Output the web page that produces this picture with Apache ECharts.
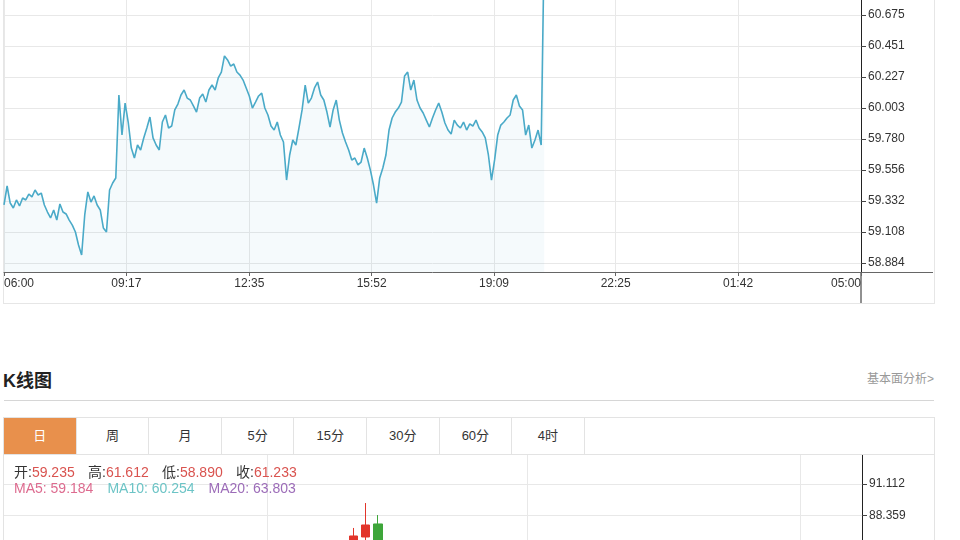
<!DOCTYPE html>
<html>
<head>
<meta charset="utf-8">
<script src="https://cdn.jsdelivr.net/npm/echarts/dist/echarts.min.js"></script>
<style>
  html, body { margin: 0; padding: 0; width: 960px; height: 540px; overflow: hidden; background: #fff;
    font-family: "Liberation Sans", "Noto Sans CJK SC", sans-serif; color: #333; }
  #lineBox { position: absolute; left: 3px; top: -100px; width: 930px; height: 402px; border: 1px solid #e6e6e6; }
  #lineChart { position: absolute; left: 0; top: -100px; width: 960px; height: 404px; }
  #kTitle { position: absolute; left: 3px; top: 366px; font-size: 18px; font-weight: bold; color: #222; }
  #kMore { position: absolute; right: 26px; top: 369px; font-size: 12px; color: #999; }
  #kRule { position: absolute; left: 4px; top: 400px; width: 930px; height: 1px; background: #d6d6d6; }
  #kBox { position: absolute; left: 3px; top: 417px; width: 930px; height: 200px; border: 1px solid #e3e3e3; }
  #tabs { position: absolute; left: 0; top: 0; width: 930px; height: 36px; border-bottom: 1px solid #e3e3e3; }
  .tab { float: left; width: 71.6px; height: 36px; line-height: 36px; text-align: center; font-size: 13px;
    color: #333; border-right: 1px solid #e3e3e3; }
  .tab.on { background: #e8904c; color: #fff; }
  #kChart { position: absolute; left: 0; top: 455px; width: 960px; height: 300px; }
  .info { position: absolute; left: 14px; font-size: 14px; white-space: nowrap; z-index: 5; }
  .info span { display: inline-block; }
  #ohlc { top: 461px; }
  #ohlc span { width: 74px; }
  #ohlc b { font-weight: normal; color: #d9534f; }
  #ma { top: 480px; }
  #ma span { margin-right: 14px; }
</style>
</head>
<body>
<div id="lineBox"></div>
<div id="lineChart"></div>

<div id="kTitle">K线图</div>
<div id="kMore">基本面分析&gt;</div>
<div id="kRule"></div>
<div id="kBox"><div id="tabs"></div></div>
<div id="kChart"></div>
<div class="info" id="ohlc"></div>
<div class="info" id="ma"></div>

<script>
// intraday prices, one point every 5 minutes from 06:00
const stepMinutes = 5;
const intradayPrices = [
  59.303, 59.440, 59.317, 59.281, 59.339, 59.296, 59.353, 59.339, 59.382, 59.361,
  59.411, 59.375, 59.389, 59.303, 59.252, 59.209, 59.267, 59.194, 59.310, 59.252,
  59.238, 59.194, 59.158, 59.108, 59.014, 58.942, 59.231, 59.397, 59.324, 59.368,
  59.303, 59.267, 59.137, 59.108, 59.411, 59.462, 59.498, 60.097, 59.808, 60.039,
  59.902, 59.714, 59.642, 59.736, 59.700, 59.787, 59.859, 59.938, 59.787, 59.736,
  59.700, 59.902, 59.953, 59.859, 59.873, 59.989, 60.032, 60.097, 60.133, 60.075,
  60.061, 60.018, 59.974, 60.075, 60.104, 60.046, 60.133, 60.169, 60.133, 60.220,
  60.263, 60.379, 60.350, 60.306, 60.321, 60.263, 60.241, 60.205, 60.148, 60.090,
  60.003, 60.046, 60.090, 60.111, 60.003, 59.953, 59.873, 59.844, 59.902, 59.808,
  59.758, 59.483, 59.664, 59.772, 59.736, 59.859, 59.989, 60.169, 60.039, 60.075,
  60.148, 60.191, 60.097, 60.061, 59.974, 59.866, 59.989, 60.061, 59.916, 59.823,
  59.758, 59.700, 59.628, 59.642, 59.592, 59.613, 59.714, 59.642, 59.555, 59.447,
  59.317, 59.498, 59.570, 59.664, 59.844, 59.931, 59.974, 60.003, 60.046, 60.234,
  60.263, 60.133, 60.205, 60.061, 60.003, 59.967, 59.916, 59.866, 59.931, 59.989,
  60.039, 59.974, 59.895, 59.844, 59.815, 59.916, 59.880, 59.859, 59.902, 59.844,
  59.888, 59.873, 59.916, 59.859, 59.830, 59.787, 59.664, 59.483, 59.628, 59.808,
  59.880, 59.902, 59.931, 59.953, 60.061, 60.097, 60.018, 59.989, 59.808, 59.880,
  59.714, 59.772, 59.844, 59.736, 61.233
];
const timeLabels = ['06:00', '09:17', '12:35', '15:52', '19:09', '22:25', '01:42', '05:00'];
const priceTicks = [58.884, 59.108, 59.332, 59.556, 59.780, 60.003, 60.227, 60.451, 60.675];

// K line panel
const tabNames = ['日', '周', '月', '5分', '15分', '30分', '60分', '4时'];
const ohlcNames = ['开', '高', '低', '收'];
const ohlcValues = ['59.235', '61.612', '58.890', '61.233'];
const maNames = ['MA5', 'MA10', 'MA20'];
const maValues = ['59.184', '60.254', '63.803'];
const maColors = ['#dd6b8f', '#6cc4c6', '#9c6cb8'];
const kSlots = 70;
const kCandleDay = [27, 28, 29, 30];
const kOpen = [84.6, 85.6, 86.48, 87.62];
const kClose = [85.4, 86.57, 87.53, 85.2];
const kLow = [84.1, 85.0, 85.9, 84.8];
const kHigh = [86.2, 87.27, 89.45, 88.40];
const kPriceTicks = [91.112, 88.359];
const kDaySplits = [21.5, 42.7, 65.0];

// minutes after 06:00 for a HH:MM label (the last label is the next morning)
const toMinutes = (t, last) => {
  const [h, m] = t.split(':').map(Number);
  const v = (h * 60 + m - 360 + 1440) % 1440;
  return last && v === 1380 ? 1380 : v;
};
const tickMinutes = timeLabels.map((t, i) => toMinutes(t, i === timeLabels.length - 1));

const lineChart = echarts.init(document.getElementById('lineChart'));
lineChart.setOption({
  animation: false,
  grid: { left: 4, right: 99, top: 10, bottom: 32, outerBoundsMode: 'none' },
  xAxis: {
    type: 'value', min: 0, max: 1380,
    axisLine: { onZero: false, lineStyle: { color: '#666' } },
    axisTick: { customValues: tickMinutes, length: 4, lineStyle: { color: '#666' } },
    axisLabel: {
      customValues: tickMinutes, color: '#333', fontSize: 12, margin: 6,
      fontFamily: 'Liberation Sans',
      alignMinLabel: 'left', alignMaxLabel: 'right',
      formatter: v => timeLabels[tickMinutes.indexOf(v)]
    },
    splitLine: { show: true, lineStyle: { color: '#e8e8e8' } }
  },
  yAxis: {
    type: 'value', position: 'right', min: 58.819, max: 61.433,
    axisLine: { show: true, onZero: false, lineStyle: { color: '#222' } },
    axisTick: { show: true, customValues: priceTicks, length: 5, lineStyle: { color: '#444' } },
    axisLabel: {
      customValues: priceTicks, color: '#333', fontSize: 12, margin: 7,
      fontFamily: 'Liberation Sans', formatter: v => v.toFixed(3)
    },
    splitLine: { show: true, lineStyle: { color: '#e8e8e8' } }
  },
  graphic: [
    { type: 'line', shape: { x1: 861, y1: 372, x2: 861, y2: 403 }, style: { stroke: '#222', lineWidth: 1 } },
    { type: 'line', shape: { x1: 861, y1: 372.5, x2: 933, y2: 372.5 }, style: { stroke: '#666', lineWidth: 1 } }
  ],
  series: [{
    type: 'line',
    data: intradayPrices.map((p, i) => [i * stepMinutes, p]),
    showSymbol: false,
    lineStyle: { width: 1.6, color: '#4aaac8' },
    itemStyle: { color: '#4aaac8' },
    areaStyle: { color: 'rgba(75,172,198,0.08)', origin: 'start' }
  }]
});

// tabs and info text
document.getElementById('tabs').innerHTML =
  tabNames.map((t, i) => '<div class="tab' + (i === 0 ? ' on' : '') + '">' + t + '</div>').join('');
document.getElementById('ohlc').innerHTML =
  ohlcNames.map((n, i) => '<span>' + n + ':<b>' + ohlcValues[i] + '</b></span>').join('');
document.getElementById('ma').innerHTML =
  maNames.map((n, i) => '<span style="color:' + maColors[i] + '">' + n + ': ' + maValues[i] + '</span>').join('');

const kData = new Array(kSlots).fill('-');
kCandleDay.forEach((d, i) => { kData[d] = [kOpen[i], kClose[i], kLow[i], kHigh[i]]; });

const kChart = echarts.init(document.getElementById('kChart'));
kChart.setOption({
  animation: false,
  grid: { left: 4, right: 98, top: 0, bottom: 10, outerBoundsMode: 'none' },
  xAxis: [
    { type: 'category', data: kData.map((_, i) => String(i)), show: false },
    {
      type: 'value', min: 0, max: kSlots, position: 'bottom',
      axisLine: { show: false, onZero: false }, axisLabel: { show: false },
      axisTick: { show: false, customValues: kDaySplits },
      splitLine: { show: true, lineStyle: { color: '#e8e8e8' } }
    }
  ],
  yAxis: {
    type: 'value', position: 'right', min: 68.3, max: 93.647,
    axisLine: { show: true, onZero: false, lineStyle: { color: '#222' } },
    axisTick: { show: true, customValues: kPriceTicks, length: 5, lineStyle: { color: '#444' } },
    axisLabel: {
      customValues: kPriceTicks, color: '#333', fontSize: 12, margin: 7,
      fontFamily: 'Liberation Sans', formatter: v => v.toFixed(3)
    },
    splitLine: { show: true, lineStyle: { color: '#e8e8e8' } }
  },
  series: [{
    type: 'candlestick',
    xAxisIndex: 0,
    data: kData,
    barWidth: 9,
    itemStyle: { color: '#e2352b', color0: '#3ea63a', borderColor: '#e2352b', borderColor0: '#3ea63a' }
  }]
});
</script>
</body>
</html>
